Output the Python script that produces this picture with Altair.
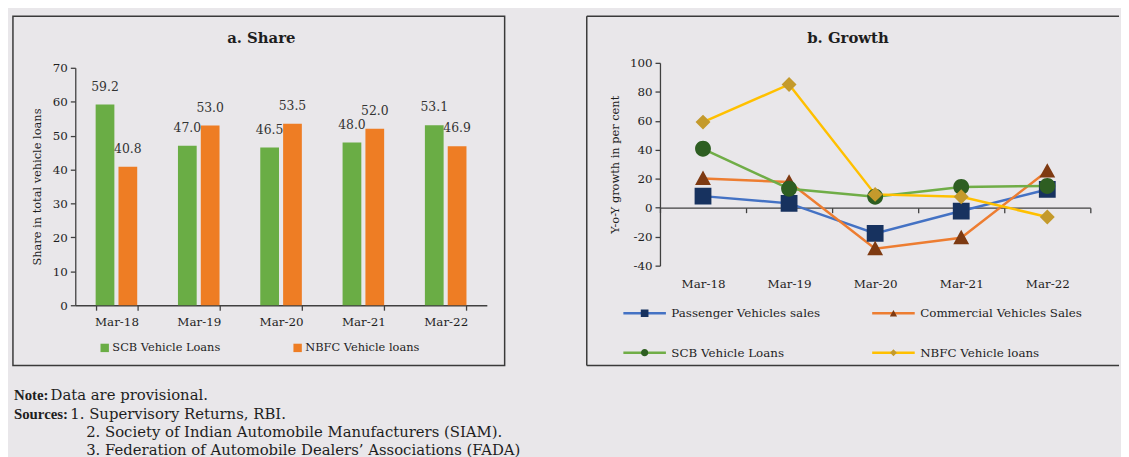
import altair as alt
import pandas as pd

# ---------------- data ----------------
periods = ["Mar-18", "Mar-19", "Mar-20", "Mar-21", "Mar-22"]

share_series = ["SCB Vehicle Loans", "NBFC Vehicle loans"]
scb_share = [59.2, 47.0, 46.5, 48.0, 53.1]
nbfc_share = [40.8, 53.0, 53.5, 52.0, 46.9]

growth_series = ["Passenger Vehicles sales", "Commercial Vehicles Sales",
                 "SCB Vehicle Loans", "NBFC Vehicle loans"]
pv_growth = [8.0, 3.0, -17.7, -2.3, 12.6]
cv_growth = [20.2, 17.7, -28.3, -20.7, 25.3]
scb_growth = [40.7, 13.1, 7.6, 14.3, 15.0]
nbfc_growth = [59.1, 85.1, 9.2, 7.6, -6.4]

panel_titles = ["a. Share", "b. Growth"]
share_axis_title = "Share in total vehicle loans"
growth_axis_title = "Y-o-Y growth in per cent"

note_heads = ["Note:", "Sources:", "", ""]
note_bodies = ["Data are provisional.",
               "1. Supervisory Returns, RBI.",
               "2. Society of Indian Automobile Manufacturers (SIAM).",
               "3. Federation of Automobile Dealers\u2019 Associations (FADA)"]

# ---------------- styles ----------------
FONT = "DejaVu Serif"
HEAD_FONT = "Liberation Serif"
BG = "#E9E7EA"
FRAME = "#3A3A3A"
AXIS = "#404040"
TEXT = "#1E1E1E"
bar_colors = ["#6AAD45", "#EE7D24"]
line_colors = ["#4472C4", "#ED7D31", "#70AD47", "#FFC000"]
marker_colors = ["#17325F", "#7E3A12", "#2E5E22", "#C49A2C"]
marker_paths = [
    "M-1,0H1M-0.18,-0.18H0.18V0.18H-0.18Z",
    "M-1,0H1M0,-0.17L0.17,0.14L-0.17,0.14Z",
    "M-1,0H1M-0.17,0A0.17,0.17,0,1,0,0.17,0A0.17,0.17,0,1,0,-0.17,0Z",
    "M-1,0H1M0,-0.16L0.16,0L0,0.16L-0.16,0Z",
]

# ---------------- panel a: share ----------------
LW, LH = 416, 245
share_df = pd.DataFrame({
    "period": periods * 2,
    "series": [share_series[0]] * len(periods) + [share_series[1]] * len(periods),
    "value": scb_share + nbfc_share,
})

share_x = alt.X("period:N", sort=periods, title=None,
                scale=alt.Scale(paddingInner=0.495, paddingOuter=0.2475),
                axis=alt.Axis(labelAngle=0, tickBand="extent", tickSize=5, labelPadding=6,
                              labelFontSize=12, labelColor=TEXT, domainColor=AXIS,
                              tickColor=AXIS, domainWidth=1.3, tickWidth=1.3))
share_y = alt.Y("value:Q", scale=alt.Scale(domain=[0, 70], range=[LH, 5]),
                axis=alt.Axis(values=list(range(0, 71, 10)), title=share_axis_title,
                              titleFontSize=11.5, titleFontWeight="normal", titlePadding=10,
                              titleColor=TEXT, labelFontSize=12, labelColor=TEXT, tickSize=5,
                              labelPadding=3, grid=False, domainColor=AXIS, tickColor=AXIS,
                              domainWidth=1.3, tickWidth=1.3))
share_xoff = alt.XOffset("series:N", sort=share_series,
                         scale=alt.Scale(paddingInner=0.18, paddingOuter=0))
share_color = alt.Color("series:N", sort=share_series,
                        scale=alt.Scale(domain=share_series, range=bar_colors),
                        legend=alt.Legend(title=None, orient="none", legendX=21, legendY=282,
                                          direction="horizontal", columns=2, columnPadding=69,
                                          symbolType="square", symbolSize=72, symbolStrokeWidth=0,
                                          symbolOffset=3, labelOffset=2, labelFontSize=11.5,
                                          labelColor=TEXT, labelFont=FONT))

bars = alt.Chart(share_df).mark_bar().encode(
    x=share_x, xOffset=share_xoff, y=share_y, color=share_color)
bar_labels = alt.Chart(share_df).mark_text(dy=-18, fontSize=12.5, color="#333333", font=FONT).encode(
    x=share_x, xOffset=share_xoff, y=share_y, text=alt.Text("value:Q", format=".1f"))

title_a = pd.DataFrame({"title": [panel_titles[0]]})
frame_a = alt.Chart(title_a).mark_rect(fill="transparent", stroke=FRAME, strokeWidth=1.5).encode(
    x=alt.value(-63), x2=alt.value(434), y=alt.value(-47), y2=alt.value(306))
head_a = alt.Chart(title_a).mark_text(fontSize=15, fontWeight="bold", font=FONT, color=TEXT).encode(
    text="title:N", x=alt.value(188), y=alt.value(-25))

panel_a = alt.layer(frame_a, bars, bar_labels, head_a).properties(width=LW, height=LH)

# ---------------- panel b: growth ----------------
RW, RH = 435, 205
growth_df = pd.DataFrame({
    "period": periods * 4,
    "series": [s for s in growth_series for _ in periods],
    "value": pv_growth + cv_growth + scb_growth + nbfc_growth,
})

growth_x = alt.X("period:N", sort=periods, title=None,
                 scale=alt.Scale(paddingInner=0, paddingOuter=0),
                 axis=alt.Axis(labelAngle=0, tickBand="extent", tickSize=5, offset=-58.57,
                               labelPadding=67, labelFontSize=12, labelColor=TEXT,
                               domainColor=AXIS, tickColor=AXIS, domainWidth=1.3, tickWidth=1.3))
growth_y = alt.Y("value:Q", scale=alt.Scale(domain=[-40, 100], nice=False),
                 axis=alt.Axis(values=list(range(-40, 101, 20)), labelExpr="'' + datum.value",
                               title=growth_axis_title, titleFontSize=11.5, titleFontWeight="normal",
                               titlePadding=9, titleColor=TEXT, labelFontSize=12, labelColor=TEXT,
                               tickSize=5, labelPadding=3, grid=False, domainColor=AXIS,
                               tickColor=AXIS, domainWidth=1.3, tickWidth=1.3))

legend_common = dict(title=None, orient="none", legendX=-38.5, legendY=230, direction="horizontal",
                     columns=2, columnPadding=46.5, symbolSize=1849,
                     symbolStrokeWidth=2.5, labelOffset=4, labelFontSize=12, labelColor=TEXT,
                     labelFont=FONT, labelLimit=400)

lines = alt.Chart(growth_df).mark_line(strokeWidth=2.5).encode(
    x=growth_x, y=growth_y,
    stroke=alt.Stroke("series:N", sort=growth_series, scale=alt.Scale(range=line_colors),
                      legend=alt.Legend(symbolType="stroke", rowPadding=11, **legend_common)))

pt_legend = alt.Legend(symbolStrokeColor="transparent", labelOpacity=0, zindex=2, rowPadding=8,
                       **legend_common)
points = alt.Chart(growth_df).mark_point(filled=True, size=8900, opacity=1).encode(
    x=growth_x, y=growth_y,
    fill=alt.Fill("series:N", scale=alt.Scale(domain=growth_series, range=marker_colors),
                  legend=pt_legend),
    shape=alt.Shape("series:N", scale=alt.Scale(domain=growth_series, range=marker_paths),
                    legend=pt_legend))

title_b = pd.DataFrame({"title": [panel_titles[1]]})
frame_top = alt.Chart(title_b).mark_rule(stroke=FRAME, strokeWidth=1.5).encode(
    x=alt.value(-74), x2=alt.value(464), y=alt.value(-47))
frame_left = alt.Chart(title_b).mark_rule(stroke=FRAME, strokeWidth=1.5).encode(
    x=alt.value(-74), y=alt.value(-47), y2=alt.value(306))
frame_bottom = alt.Chart(title_b).mark_rule(stroke=FRAME, strokeWidth=1.5).encode(
    x=alt.value(-74), x2=alt.value(464), y=alt.value(306))
head_b = alt.Chart(title_b).mark_text(fontSize=15, fontWeight="bold", font=FONT, color=TEXT).encode(
    text="title:N", x=alt.value(190), y=alt.value(-25))

panel_b = alt.layer(frame_top, frame_left, frame_bottom, lines, points, head_b).properties(
    width=RW, height=RH)

# ---------------- notes ----------------
notes_df = pd.DataFrame({"row": list(range(len(note_bodies))), "head": note_heads, "body": note_bodies})
ny = alt.Y("row:O", axis=None, scale=alt.Scale(type="point", padding=0.5))
head_style = dict(align="left", baseline="middle", fontSize=15, font=HEAD_FONT, color=TEXT,
                  fontWeight="bold")
body_style = dict(align="left", baseline="middle", fontSize=15, font=FONT, color=TEXT)
heads = alt.Chart(notes_df).mark_text(**head_style).encode(y=ny, x=alt.value(-62), text="head:N")
body0 = alt.Chart(notes_df).transform_filter("datum.row == 0").mark_text(**body_style).encode(
    y=ny, x=alt.value(-25), text="body:N")
body1 = alt.Chart(notes_df).transform_filter("datum.row == 1").mark_text(**body_style).encode(
    y=ny, x=alt.value(-5), text="body:N")
body23 = alt.Chart(notes_df).transform_filter("datum.row >= 2").mark_text(**body_style).encode(
    y=ny, x=alt.value(11), text="body:N")
notes = alt.layer(heads, body0, body1, body23).properties(width=500, height=73.3)

indep = dict(color="independent", fill="independent", stroke="independent", shape="independent")
top_row = alt.hconcat(panel_a, panel_b, spacing=79).resolve_scale(**indep).resolve_legend(**indep)

chart = alt.vconcat(top_row, notes, spacing=18).resolve_scale(**indep).resolve_legend(**indep).properties(
    padding={"left": 3, "top": 4, "right": 0, "bottom": 0},
    background=BG,
).configure(font=FONT).configure_view(stroke="transparent").configure_axis(
    labelFont=FONT, titleFont=FONT).configure_legend(padding=0)

chart.save("out.html", embed_options={"renderer": "svg", "actions": False})
